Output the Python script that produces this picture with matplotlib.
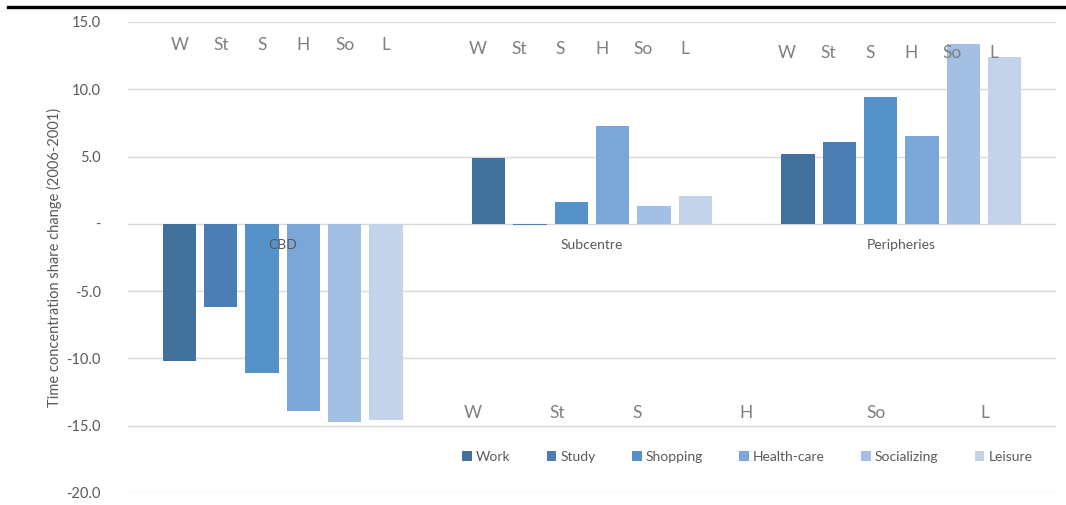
import matplotlib
matplotlib.use("Agg")
import matplotlib.pyplot as plt
import numpy as np
from matplotlib.lines import Line2D

plt.rcParams['font.family'] = ['Lato', 'DejaVu Sans']

areas = ["CBD", "Subcentre", "Peripheries"]
activities = ["Work", "Study", "Shopping", "Health-care", "Socializing", "Leisure"]
short = ["W", "St", "S", "H", "So", "L"]
work = [-10.2, 4.9, 5.2]
study = [-6.2, -0.1, 6.1]
shopping = [-11.1, 1.6, 9.4]
health = [-13.9, 7.3, 6.5]
social = [-14.7, 1.3, 13.4]
leisure = [-14.6, 2.1, 12.4]
series = [work, study, shopping, health, social, leisure]
colors = ["#41719C", "#4A7EB4", "#5592CA", "#7AA7D8", "#A3C0E4", "#C3D4EA"]

yticks = [15, 10, 5, 0, -5, -10, -15, -20]
ytick_labels = ["15.0", "10.0", "5.0", "-", "-5.0", "-10.0", "-15.0", "-20.0"]

# stray label row along the bottom (x in category units)
bottom_x = [0.615, 0.887, 1.146, 1.498, 1.918, 2.271]

fig = plt.figure(figsize=(10.66, 5.05), dpi=100)
ax = fig.add_axes([128/1066, 12/505, 928/1066, 471/505])

x = np.arange(len(areas))
bw = 0.107
step = 0.1336
for i, (vals, c) in enumerate(zip(series, colors)):
    ax.bar(x + (i - 2.5) * step, vals, bw, color=c, label=activities[i], zorder=2)

ax.set_xlim(-0.5, 2.5)
ax.set_ylim(-20, 15)
ax.set_yticks(yticks)
ax.set_yticklabels(ytick_labels)
ax.set_xticks([])
ax.grid(axis='y', color="#D9D9D9", lw=1, zorder=0)
for s in ax.spines.values():
    s.set_visible(False)
ax.tick_params(axis='y', length=0, pad=19.5, labelsize=10.5, labelcolor="#595959")
ax.set_ylabel("Time concentration share change (2006-2001)", fontsize=10.5,
              color="#595959", labelpad=3)

# category labels next to the zero line
for xi, name in zip(x, areas):
    ax.text(xi, -1.6, name, ha='center', va='center', fontsize=10, color="#595959", zorder=3)

# short labels above groups
top_y = [13.3, 13.0, 12.7]
top_dx = [0.0, -0.035, -0.035]
for g in range(3):
    for i, lab in enumerate(short):
        ax.text(x[g] + (i - 2.5) * step + top_dx[g], top_y[g], lab, ha='center', va='center',
                fontsize=12.5, color="#7F7F7F", zorder=3)

for xb, lab in zip(bottom_x, short):
    ax.text(xb, -14.05, lab, ha='center', va='center', fontsize=12.5, color="#7F7F7F")

fig.legend(loc='center', bbox_to_anchor=(0.701, 0.095), ncol=6, frameon=False,
           fontsize=10, handlelength=0.7, handleheight=0.7, handletextpad=0.3,
           columnspacing=2.6, labelcolor="#595959")

fig.add_artist(Line2D([8/1066, 1.0], [1 - 7/505, 1 - 7/505], color="black", lw=2.4,
                      transform=fig.transFigure))

fig.savefig("out.png", dpi=100)
